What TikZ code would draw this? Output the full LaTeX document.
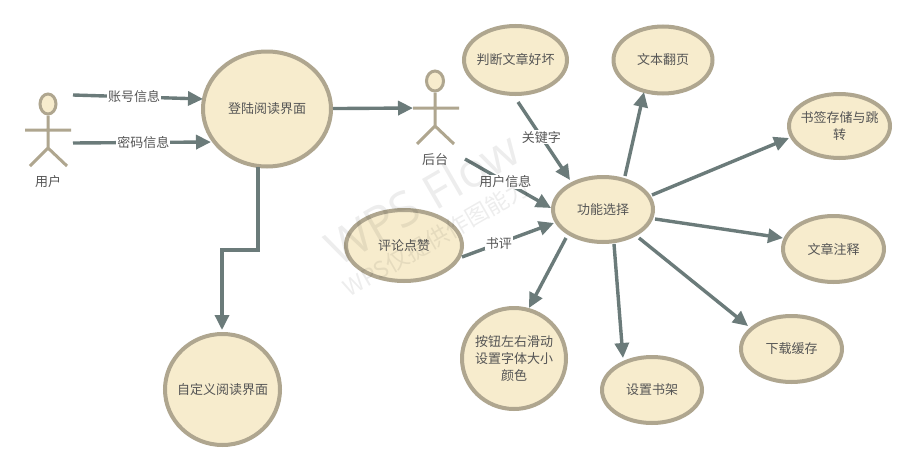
\documentclass[tikz,border=0pt]{standalone}
\usepackage{fontspec}
\setmainfont{Noto Sans CJK SC}
\newfontfamily\wmfont{Open Sans}
\usetikzlibrary{arrows.meta,shapes.geometric}
\definecolor{nodefill}{HTML}{F7ECCD}
\definecolor{nodeline}{HTML}{AFA68F}
\definecolor{linkc}{HTML}{6B7B7A}
\definecolor{txt}{HTML}{555555}
\tikzset{x=1pt,y=-1pt,
 oval/.style={ellipse,draw=nodeline,fill=nodefill,line width=4pt,inner sep=-14pt,outer sep=2pt,text=txt,font=\fontsize{13}{17}\selectfont,align=center},
 link/.style={draw=linkc,line width=3.4pt,-{Triangle[length=15pt,width=14pt]}},
 lab/.style={fill=white,inner sep=1pt,text=txt,font=\fontsize{13}{15}\selectfont},
 actor/.style={draw=nodeline,line width=3pt},
 actorhead/.style={draw=nodeline,fill=nodefill,line width=3pt},
 acttext/.style={text=txt,font=\fontsize{13}{15}\selectfont},
 wmark/.style={rotate=30,text=black,opacity=.07}}
\begin{document}
\begin{tikzpicture}
\useasboundingbox (0,0) rectangle (916,471);
\fill[white] (0,0) rectangle (916,471);
\node[oval,minimum width=128pt,minimum height=115pt] (login) at (267,109) {登陆阅读界面};
\node[oval,minimum width=115pt,minimum height=111pt] (custom) at (222.5,389.5) {自定义阅读界面};
\node[oval,minimum width=103pt,minimum height=68pt] (judge) at (515.5,60) {判断文章好坏};
\node[oval,minimum width=99pt,minimum height=67pt] (flip) at (663,60) {文本翻页};
\node[oval,minimum width=101pt,minimum height=64pt] (mark) at (839.5,126) {书签存储与跳\\转};
\node[oval,minimum width=101pt,minimum height=66pt] (note) at (833.5,249) {文章注释};
\node[oval,minimum width=101pt,minimum height=66pt] (down) at (791.5,349) {下载缓存};
\node[oval,minimum width=100pt,minimum height=66pt] (shelf) at (652,390) {设置书架};
\node[oval,minimum width=104pt,minimum height=101pt] (btn) at (514,358.5) {按钮左右滑动\\设置字体大小\\颜色};
\node[oval,minimum width=116pt,minimum height=71pt] (comment) at (404,245.5) {评论点赞};
\node[oval,minimum width=100pt,minimum height=65pt] (func) at (603,209.5) {功能选择};
% actors
\node[actorhead,ellipse,minimum width=16pt,minimum height=20pt,inner sep=0pt] (h1) at (48,104) {};
\coordinate (hip1) at (48,148);
\coordinate (arm1a) at (25,130); \coordinate (arm1b) at (71,130);
\coordinate (leg1a) at (30,166); \coordinate (leg1b) at (67,166);
\draw[actor] (h1.south) -- (hip1) (arm1a) -- (arm1b) (leg1a) -- (hip1) -- (leg1b);
\node[acttext] (u1) at (48,182) {用户};
\node[actorhead,ellipse,minimum width=17pt,minimum height=20pt,inner sep=0pt] (h2) at (435,81) {};
\coordinate (hip2) at (435,126);
\coordinate (arm2a) at (413,108); \coordinate (arm2b) at (459,108);
\coordinate (leg2a) at (417,144); \coordinate (leg2b) at (454,144);
\draw[actor] (h2.south) -- (hip2) (arm2a) -- (arm2b) (leg2a) -- (hip2) -- (leg2b);
\node[acttext] (u2) at (435,160) {后台};
\coordinate (a1) at (73,95); \coordinate (a2) at (73,143);
\coordinate (b1) at (518,102); \coordinate (b2) at (465,159);
\coordinate (c0) at (462,257);
\coordinate (e1) at (203,99); \coordinate (e2) at (211,142);
\draw[link] (a1) -- node[lab,pos=.47] {账号信息} (e1);
\draw[link] (a2) -- node[lab,pos=.51] {密码信息} (e2);
\draw[link] (login) -- (arm2a);
\coordinate (d1) at (258,167); \coordinate (d2) at (258,250); \coordinate (d3) at (222,250); \coordinate (d4) at (222,330);
\draw[link] (d1) -- (d2) -- (d3) -- (d4);
\coordinate (f1) at (570,180); \coordinate (f2) at (551,208); \coordinate (f3) at (554,223);
\draw[link] (b1) -- node[lab,pos=.45] {关键字} (f1);
\draw[link] (b2) -- node[lab,pos=.47] {用户信息} (f2);
\draw[link] (c0) -- node[lab,pos=.40] {书评} (f3);
\coordinate (s1) at (625,176); \coordinate (t1) at (644,92);
\coordinate (s2) at (652,195); \coordinate (t2) at (789,138);
\coordinate (s3) at (655,219); \coordinate (t3) at (783,238);
\coordinate (s4) at (639,238); \coordinate (t4) at (748,326);
\coordinate (s5) at (614,244); \coordinate (t5) at (623,358);
\coordinate (s6) at (566,238); \coordinate (t6) at (529,308);
\draw[link] (s1) -- (t1);
\draw[link] (s2) -- (t2);
\draw[link] (s3) -- (t3);
\draw[link] (s4) -- (t4);
\draw[link] (s5) -- (t5);
\draw[link] (s6) -- (t6);
\node[wmark,font=\wmfont\fontsize{48}{52}\selectfont] (wm1) at (422,198) {WPS Flow};
\node[wmark,font=\fontsize{23}{25}\selectfont] (wm2) at (436,238) {WPS仅提供作图能力};
\end{tikzpicture}
\end{document}
